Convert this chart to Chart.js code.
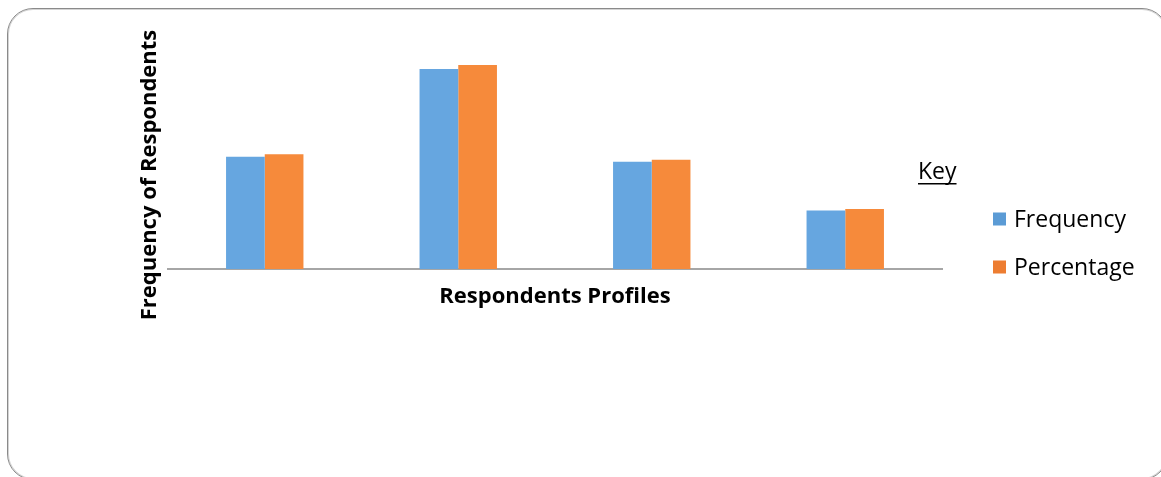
<!DOCTYPE html>
<html>
<head>
<meta charset="utf-8">
<script src="https://cdn.jsdelivr.net/npm/chart.js@4.4.1/dist/chart.umd.min.js"></script>
<style>
  html, body { margin: 0; padding: 0; background: #fff; overflow: hidden; }
  #wrap { position: relative; width: 1161px; height: 477px; }
  #frame {
    position: absolute; left: 7px; top: 8px; width: 1161px; height: 472px;
    box-sizing: border-box; border: 1px solid #8a8a8a; border-radius: 26px;
    box-shadow: inset 0 0 0 1px #d4d4d4;
  }
  #chart { position: absolute; left: 0; top: 0; }
</style>
</head>
<body>
<div id="wrap">
  <div id="frame"></div>
  <canvas id="chart" width="1161" height="477"></canvas>
</div>
<script>
// ── Data ──────────────────────────────────────────────────
const categories = ['Profile 1', 'Profile 2', 'Profile 3', 'Profile 4'];
const frequency  = [23, 41, 22, 12];
const percentage = [23.5, 41.8, 22.4, 12.3];
const seriesNames = ['Frequency', 'Percentage'];
const barColors   = ['#66a6e0', '#f68a3b'];
const keyColors   = ['#5b9bd5', '#ed7d31'];

const FONT = '"Open Sans", Lato, sans-serif';

// Axis titles and the "Key" legend are drawn by hand
const labelsPlugin = {
    id: 'labels',
    afterDraw(chart) {
        const { ctx, chartArea } = chart;
        ctx.save();
        ctx.fillStyle = '#000';
        ctx.textBaseline = 'middle';

        // x title
        ctx.font = 'bold 22px ' + FONT;
        ctx.textAlign = 'center';
        ctx.fillText('Respondents Profiles', (chartArea.left + chartArea.right) / 2, 297);

        // y title
        ctx.save();
        ctx.translate(150, 175);
        ctx.rotate(-Math.PI / 2);
        ctx.fillText('Frequency of Respondents', 0, 0);
        ctx.restore();

        // key heading, underlined
        ctx.font = '23px ' + FONT;
        ctx.textAlign = 'left';
        ctx.fillText('Key', 918, 172);
        const w = ctx.measureText('Key').width;
        ctx.fillRect(918, 183, w, 1.5);

        // key entries
        chart.data.datasets.forEach((ds, i) => {
            const y = 219 + i * 48;
            ctx.fillStyle = keyColors[i];
            ctx.fillRect(993, y - 6.5, 13, 13);
            ctx.fillStyle = '#000';
            ctx.fillText(ds.label, 1014, y + 1);
        });
        ctx.restore();
    }
};

new Chart(document.getElementById('chart'), {
    type: 'bar',
    data: {
        labels: categories,
        datasets: [
            { label: seriesNames[0], data: frequency,  backgroundColor: barColors[0] },
            { label: seriesNames[1], data: percentage, backgroundColor: barColors[1] }
        ]
    },
    options: {
        responsive: false,
        animation: false,
        categoryPercentage: 0.4,
        barPercentage: 1.0,
        layout: { padding: { left: 168, right: 219, top: 25, bottom: 200 } },
        plugins: {
            legend: { display: false },
            tooltip: { enabled: false }
        },
        scales: {
            x: {
                grid: { display: false },
                ticks: { display: false },
                border: { color: '#a6a6a6', width: 2 }
            },
            y: {
                display: false,
                min: 0,
                max: 50
            }
        }
    },
    plugins: [labelsPlugin]
});
</script>
</body>
</html>
